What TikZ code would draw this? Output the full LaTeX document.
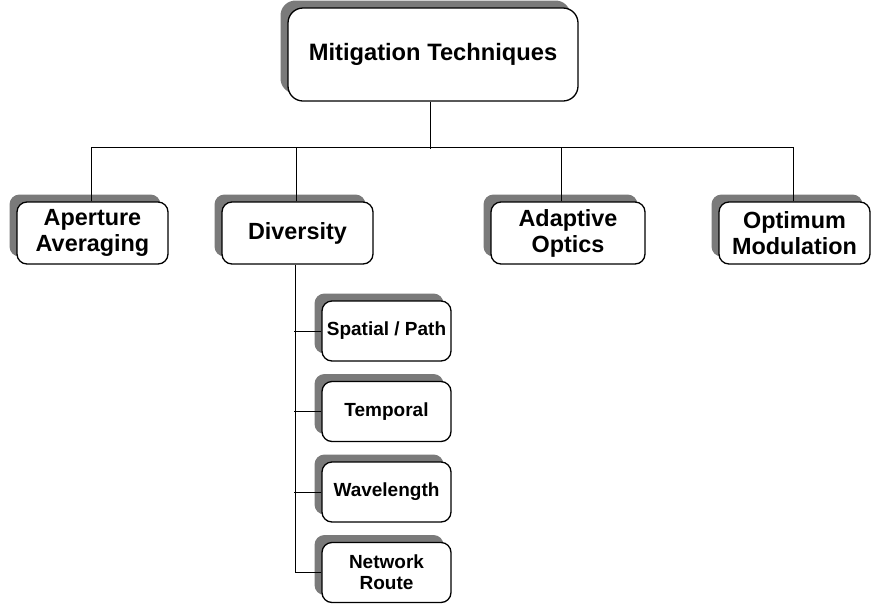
\documentclass[tikz,border=0pt]{standalone}
\usepackage{fontspec}
\setmainfont{Liberation Sans}
\usetikzlibrary{shadows}
\begin{document}
\begin{tikzpicture}[x=1pt,y=1pt,
  box/.style={draw=black, line width=1.3pt, fill=white, rounded corners=10pt,
    align=center, inner sep=0pt, font=\bfseries,
    general shadow={fill=black!52, shadow xshift=-7.5pt, shadow yshift=7.5pt}},
  topbox/.style={box, rounded corners=15pt, minimum width=290pt, minimum height=93pt,
    font=\fontsize{23.7}{27}\bfseries\selectfont},
  mainbox/.style={box, minimum width=151pt, minimum height=62pt,
    font=\fontsize{23.4}{26}\bfseries\selectfont},
  subbox/.style={box, minimum width=129pt, minimum height=60pt,
    font=\fontsize{19}{21}\bfseries\selectfont},
  link/.style={draw=black, line width=0.9pt}]
\useasboundingbox (0,0) rectangle (871,-606);

% root
\node[topbox] (root) at (433,-54.5) {Mitigation Techniques};

% first level
\node[mainbox] (ap)  at (92.5,-233) {Aperture\\Averaging};
\node[mainbox] (div) at (297.5,-233) {Diversity};
\node[mainbox, minimum width=154pt] (ada) at (568,-233) {Adaptive\\Optics};
\node[mainbox] (opt) at (794.5,-233) {Optimum\\Modulation};

% diversity branches
\node[subbox] (spa) at (386.5,-331) {Spatial / Path};
\node[subbox] (tem) at (386.5,-411.5) {Temporal};
\node[subbox] (wav) at (386.5,-492) {Wavelength};
\node[subbox] (net) at (386.5,-572.5) {Network\\Route};

% tree connectors
\draw[link] ([xshift=-3pt]root.south) -- ++(0,-47);
\draw[link] ([xshift=-1.5pt]ap.north) -- ++(0,54) -| ([xshift=-1.5pt]opt.north);
\draw[link] ([xshift=-1.5pt]div.north) -- ++(0,54);
\draw[link] ([xshift=-6.5pt]ada.north) -- ++(0,54);

\draw[link] ([xshift=-2.5pt]div.south) |- (net.west);
\draw[link] (spa.west) -- ++(-27,0);
\draw[link] (tem.west) -- ++(-27,0);
\draw[link] (wav.west) -- ++(-27,0);
\end{tikzpicture}
\end{document}
